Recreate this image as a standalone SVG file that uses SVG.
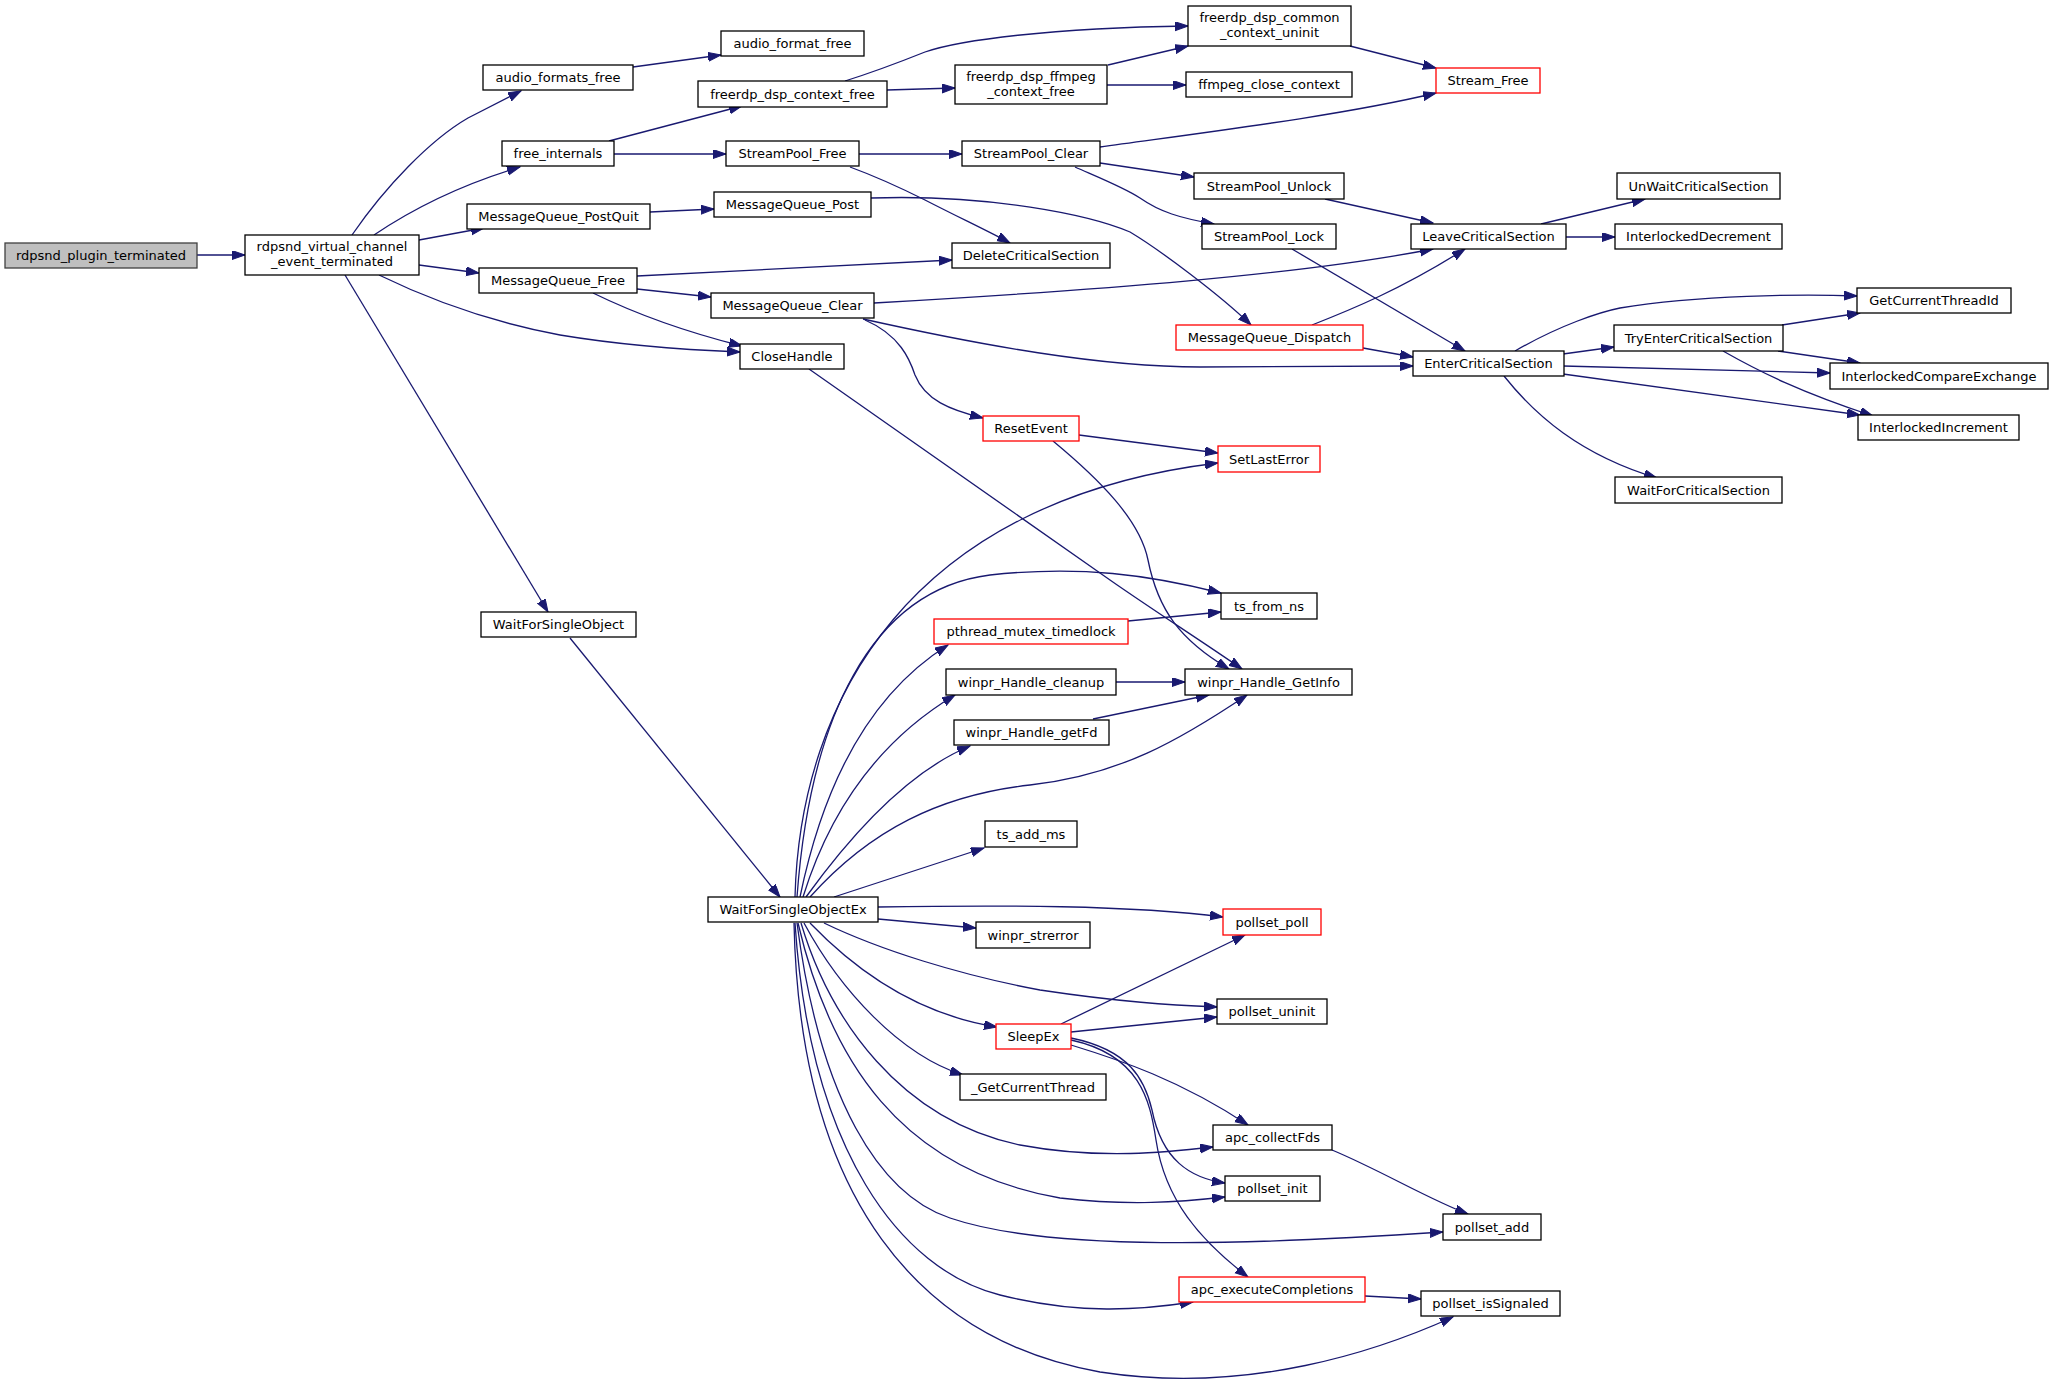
<svg xmlns="http://www.w3.org/2000/svg" width="2052" height="1380" viewBox="0 0 2052 1380">
<style>
.n rect{fill:#fff;stroke:#000;stroke-width:1.3}
.n.r rect{stroke:#ff0000}
.n.g rect{fill:#bfbfbf;stroke:#404040}
.n text{font-family:"DejaVu Sans",sans-serif;font-size:13px;text-anchor:middle;fill:#000}
#edges path{fill:none;stroke:#191970;stroke-width:1.3;marker-end:url(#a)}
</style>
<defs>
<marker id="a" markerUnits="userSpaceOnUse" markerWidth="14" markerHeight="10" refX="13" refY="4.5" orient="auto"><path d="M0,0 L13,4.5 L0,9 z" fill="#191970" stroke="#191970" stroke-width="1"/></marker>
</defs>
<rect width="2052" height="1380" fill="#fff"/>
<g id="edges">
<path d="M197,255 L245,255"/>
<path d="M352,235 C385,187 430,140 468,118 L521,91"/>
<path d="M374,235 C405,214 450,188 520,167"/>
<path d="M419,240 L484,228"/>
<path d="M419,265 L479,273"/>
<path d="M379,275 C420,295 480,320 560,335 C620,345 690,350 740,352"/>
<path d="M345,275 L548,612"/>
<path d="M633,67 L721,55"/>
<path d="M609,141 L742,106"/>
<path d="M614,154 L726,154"/>
<path d="M650,212 L714,209"/>
<path d="M637,276 L952,260"/>
<path d="M637,289 L711,297"/>
<path d="M593,293 C640,316 690,333 742,346"/>
<path d="M845,81 C880,70 905,60 925,52 C960,40 1050,28 1188,26"/>
<path d="M887,90 L955,88"/>
<path d="M1108,65 L1188,46"/>
<path d="M1107,85 L1186,85"/>
<path d="M1350,46 L1436,68"/>
<path d="M859,154 L962,154"/>
<path d="M850,167 C880,178 905,190 925,200 C960,218 990,232 1010,243"/>
<path d="M1100,147 C1200,133 1340,116 1436,93"/>
<path d="M1100,163 L1194,177"/>
<path d="M1075,167 C1100,178 1125,188 1140,198 C1160,212 1180,218 1214,224"/>
<path d="M1325,199 L1433,223"/>
<path d="M1292,249 L1465,351"/>
<path d="M871,198 C990,194 1090,215 1130,232 C1160,250 1220,295 1251,325"/>
<path d="M1312,325 C1350,310 1400,290 1465,249"/>
<path d="M1363,348 L1413,357"/>
<path d="M874,303 C1100,290 1300,275 1433,249"/>
<path d="M863,319 C980,345 1100,367 1200,367 L1413,366"/>
<path d="M865,320 C900,335 910,360 915,375 C925,400 950,410 983,418"/>
<path d="M809,369 L1110,580 C1150,608 1200,640 1242,669"/>
<path d="M1079,435 L1218,453"/>
<path d="M1053,441 C1100,480 1140,520 1148,560 C1158,610 1180,640 1229,669"/>
<path d="M1515,351 C1560,325 1600,312 1620,308 C1700,295 1800,294 1857,296"/>
<path d="M1563,354 L1614,347"/>
<path d="M1563,366 L1830,373"/>
<path d="M1563,374 L1860,415"/>
<path d="M1504,376 C1535,415 1580,455 1657,478"/>
<path d="M1782,325 L1860,313"/>
<path d="M1778,351 L1860,363"/>
<path d="M1723,351 C1760,372 1800,392 1873,416"/>
<path d="M1541,224 L1645,199"/>
<path d="M1566,237 L1615,237"/>
<path d="M570,638 L780,897"/>
<path d="M795,897 C800,700 910,500 1218,463"/>
<path d="M797,897 C810,720 870,590 990,575 C1080,565 1150,575 1221,593"/>
<path d="M800,897 C820,800 860,700 948,645"/>
<path d="M803,897 C830,810 880,740 955,695"/>
<path d="M806,897 C840,850 900,775 970,746"/>
<path d="M810,897 C870,830 940,795 1030,785 C1120,775 1180,740 1247,695"/>
<path d="M834,897 L984,848"/>
<path d="M878,907 C1000,905 1130,905 1223,917"/>
<path d="M878,919 L976,928"/>
<path d="M824,923 C880,950 960,975 1040,990 C1120,1002 1170,1005 1217,1007"/>
<path d="M810,923 C860,975 920,1015 997,1027"/>
<path d="M804,923 C840,990 900,1055 963,1075"/>
<path d="M801,923 C830,1020 900,1120 1020,1145 C1100,1160 1170,1152 1213,1147"/>
<path d="M798,923 C830,1060 900,1170 1060,1198 C1130,1206 1180,1202 1225,1197"/>
<path d="M797,923 C820,1100 880,1195 950,1218 C1050,1252 1250,1245 1443,1232"/>
<path d="M795,923 C810,1150 900,1270 1000,1295 C1080,1315 1140,1310 1193,1302"/>
<path d="M794,923 C800,1200 920,1340 1100,1372 C1250,1395 1380,1350 1453,1317"/>
<path d="M1061,1024 L1245,935"/>
<path d="M1071,1032 L1217,1017"/>
<path d="M1071,1045 C1120,1060 1180,1080 1248,1125"/>
<path d="M1071,1038 C1130,1050 1145,1080 1152,1110 C1162,1160 1190,1178 1225,1183"/>
<path d="M1071,1040 C1140,1055 1150,1100 1156,1140 C1165,1200 1200,1240 1248,1277"/>
<path d="M1332,1150 C1380,1170 1430,1200 1468,1214"/>
<path d="M1365,1296 L1421,1299"/>
<path d="M1128,621 L1221,612"/>
<path d="M1116,682 L1185,682"/>
<path d="M1093,719 L1209,695"/>
</g>
<g id="n1" class="n g"><rect x="5" y="243" width="192" height="25"/><text x="101" y="260">rdpsnd_plugin_terminated</text></g>
<g id="n2" class="n"><rect x="245" y="235" width="174" height="40"/><text x="332" y="251">rdpsnd_virtual_channel</text><text x="332" y="266">_event_terminated</text></g>
<g id="n3" class="n"><rect x="483" y="65" width="150" height="25"/><text x="558" y="82">audio_formats_free</text></g>
<g id="n4" class="n"><rect x="502" y="141" width="112" height="25"/><text x="558" y="158">free_internals</text></g>
<g id="n5" class="n"><rect x="467" y="204" width="183" height="25"/><text x="558.5" y="221">MessageQueue_PostQuit</text></g>
<g id="n6" class="n"><rect x="479" y="268" width="158" height="25"/><text x="558" y="285">MessageQueue_Free</text></g>
<g id="n7" class="n"><rect x="481" y="612" width="155" height="25"/><text x="558.5" y="629">WaitForSingleObject</text></g>
<g id="n8" class="n"><rect x="721" y="31" width="143" height="25"/><text x="792.5" y="48">audio_format_free</text></g>
<g id="n9" class="n"><rect x="698" y="81" width="189" height="26"/><text x="792.5" y="98.5">freerdp_dsp_context_free</text></g>
<g id="n10" class="n"><rect x="955" y="65" width="152" height="39"/><text x="1031" y="81">freerdp_dsp_ffmpeg</text><text x="1031" y="96">_context_free</text></g>
<g id="n11" class="n"><rect x="1188" y="6" width="163" height="40"/><text x="1269.5" y="22">freerdp_dsp_common</text><text x="1269.5" y="37">_context_uninit</text></g>
<g id="n12" class="n"><rect x="1186" y="72" width="166" height="25"/><text x="1269" y="89">ffmpeg_close_context</text></g>
<g id="n13" class="n"><rect x="726" y="141" width="133" height="25"/><text x="792.5" y="158">StreamPool_Free</text></g>
<g id="n14" class="n"><rect x="962" y="141" width="138" height="25"/><text x="1031" y="158">StreamPool_Clear</text></g>
<g id="n15" class="n"><rect x="1194" y="173" width="150" height="26"/><text x="1269" y="190.5">StreamPool_Unlock</text></g>
<g id="n16" class="n"><rect x="1202" y="224" width="134" height="25"/><text x="1269" y="241">StreamPool_Lock</text></g>
<g id="n17" class="n"><rect x="714" y="192" width="157" height="25"/><text x="792.5" y="209">MessageQueue_Post</text></g>
<g id="n18" class="n"><rect x="952" y="243" width="158" height="25"/><text x="1031" y="260">DeleteCriticalSection</text></g>
<g id="n19" class="n"><rect x="711" y="293" width="163" height="25"/><text x="792.5" y="310">MessageQueue_Clear</text></g>
<g id="n20" class="n"><rect x="740" y="344" width="104" height="25"/><text x="792" y="361">CloseHandle</text></g>
<g id="n21" class="n r"><rect x="1176" y="325" width="187" height="25"/><text x="1269.5" y="342">MessageQueue_Dispatch</text></g>
<g id="n22" class="n r"><rect x="983" y="416" width="96" height="25"/><text x="1031" y="433">ResetEvent</text></g>
<g id="n23" class="n r"><rect x="1218" y="446" width="102" height="26"/><text x="1269" y="463.5">SetLastError</text></g>
<g id="n24" class="n r"><rect x="1436" y="68" width="104" height="25"/><text x="1488" y="85">Stream_Free</text></g>
<g id="n25" class="n"><rect x="1617" y="173" width="163" height="26"/><text x="1698.5" y="190.5">UnWaitCriticalSection</text></g>
<g id="n26" class="n"><rect x="1411" y="224" width="155" height="25"/><text x="1488.5" y="241">LeaveCriticalSection</text></g>
<g id="n27" class="n"><rect x="1615" y="224" width="167" height="25"/><text x="1698.5" y="241">InterlockedDecrement</text></g>
<g id="n28" class="n"><rect x="1857" y="288" width="154" height="25"/><text x="1934" y="305">GetCurrentThreadId</text></g>
<g id="n29" class="n"><rect x="1614" y="325" width="169" height="26"/><text x="1698.5" y="342.5">TryEnterCriticalSection</text></g>
<g id="n30" class="n"><rect x="1413" y="351" width="151" height="25"/><text x="1488.5" y="368">EnterCriticalSection</text></g>
<g id="n31" class="n"><rect x="1830" y="363" width="218" height="26"/><text x="1939" y="380.5">InterlockedCompareExchange</text></g>
<g id="n32" class="n"><rect x="1858" y="415" width="161" height="25"/><text x="1938.5" y="432">InterlockedIncrement</text></g>
<g id="n33" class="n"><rect x="1615" y="477" width="167" height="26"/><text x="1698.5" y="494.5">WaitForCriticalSection</text></g>
<g id="n34" class="n"><rect x="1221" y="593" width="96" height="26"/><text x="1269" y="610.5">ts_from_ns</text></g>
<g id="n35" class="n r"><rect x="934" y="619" width="194" height="25"/><text x="1031" y="636">pthread_mutex_timedlock</text></g>
<g id="n36" class="n"><rect x="946" y="669" width="170" height="26"/><text x="1031" y="686.5">winpr_Handle_cleanup</text></g>
<g id="n37" class="n"><rect x="1185" y="669" width="167" height="26"/><text x="1268.5" y="686.5">winpr_Handle_GetInfo</text></g>
<g id="n38" class="n"><rect x="954" y="720" width="155" height="25"/><text x="1031.5" y="737">winpr_Handle_getFd</text></g>
<g id="n39" class="n"><rect x="985" y="821" width="92" height="26"/><text x="1031" y="838.5">ts_add_ms</text></g>
<g id="n40" class="n"><rect x="708" y="897" width="170" height="25"/><text x="793" y="914">WaitForSingleObjectEx</text></g>
<g id="n41" class="n r"><rect x="1223" y="909" width="98" height="26"/><text x="1272" y="926.5">pollset_poll</text></g>
<g id="n42" class="n"><rect x="976" y="922" width="114" height="26"/><text x="1033" y="939.5">winpr_strerror</text></g>
<g id="n43" class="n"><rect x="1217" y="999" width="110" height="25"/><text x="1272" y="1016">pollset_uninit</text></g>
<g id="n44" class="n r"><rect x="996" y="1024" width="75" height="25"/><text x="1033.5" y="1041">SleepEx</text></g>
<g id="n45" class="n"><rect x="960" y="1074" width="146" height="26"/><text x="1033" y="1091.5">_GetCurrentThread</text></g>
<g id="n46" class="n"><rect x="1213" y="1125" width="119" height="25"/><text x="1272.5" y="1142">apc_collectFds</text></g>
<g id="n47" class="n"><rect x="1225" y="1176" width="95" height="25"/><text x="1272.5" y="1193">pollset_init</text></g>
<g id="n48" class="n"><rect x="1443" y="1214" width="98" height="26"/><text x="1492" y="1231.5">pollset_add</text></g>
<g id="n49" class="n r"><rect x="1179" y="1277" width="186" height="25"/><text x="1272" y="1294">apc_executeCompletions</text></g>
<g id="n50" class="n"><rect x="1421" y="1291" width="139" height="25"/><text x="1490.5" y="1308">pollset_isSignaled</text></g>
</svg>
